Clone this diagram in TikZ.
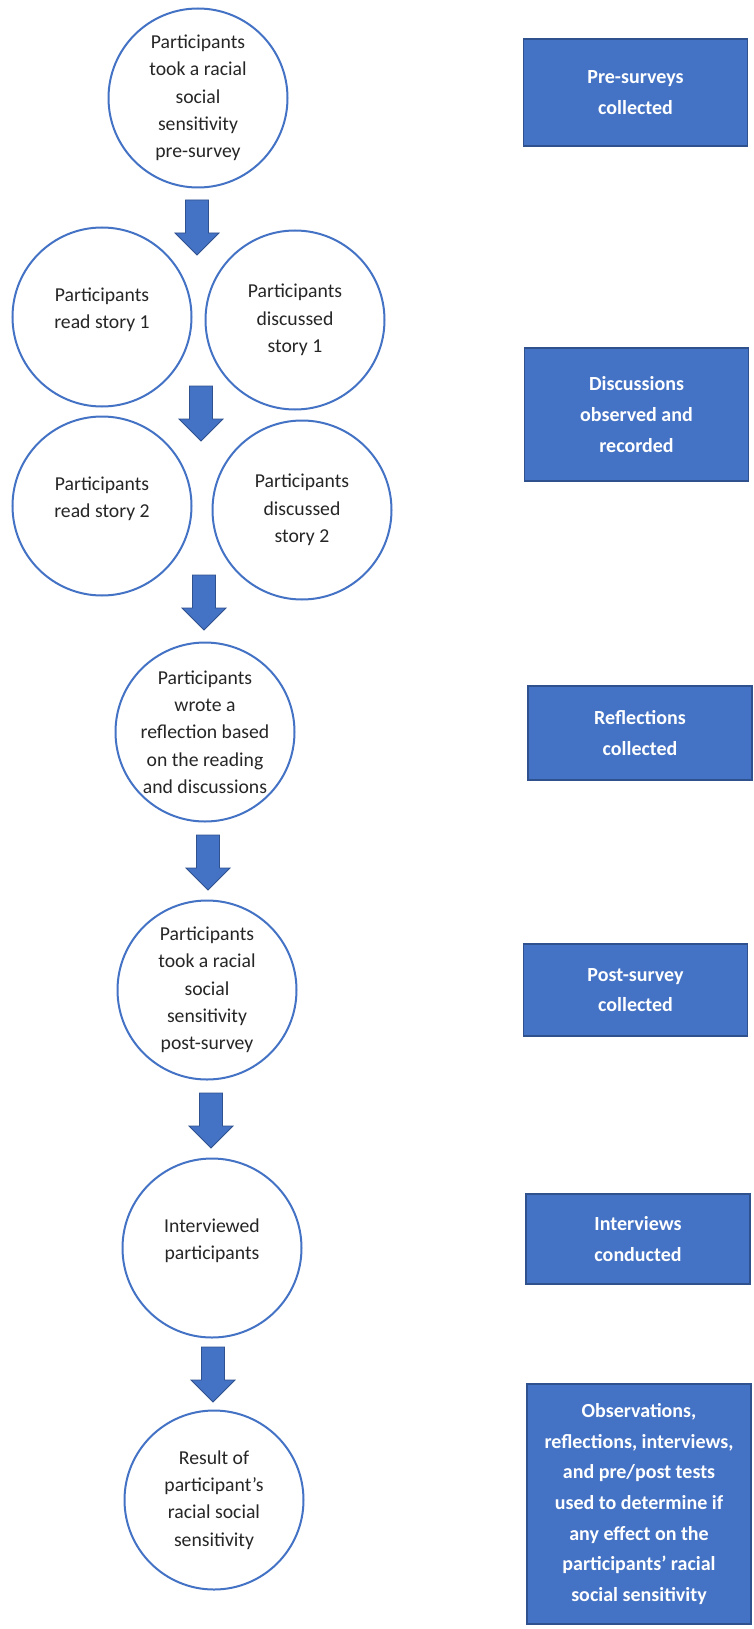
\documentclass[tikz,border=0pt]{standalone}
\usepackage{fontspec}
\setmainfont{Carlito}

\definecolor{officeblue}{HTML}{4472C4}
\definecolor{edgeblue}{HTML}{2F528F}

\tikzset{
  stepcircle/.style={circle, draw=officeblue, line width=2pt, minimum size=179pt,
    inner sep=-22pt, align=center, text=black!85,
    font=\fontsize{19.7pt}{27.3pt}\selectfont},
  databox/.style={rectangle, draw=edgeblue, fill=officeblue, line width=1.2pt,
    minimum width=224pt, inner sep=0pt, align=center, text=white,
    font=\fontsize{20pt}{30.7pt}\selectfont\bfseries},
  blockarrow/.style={fill=officeblue, draw=edgeblue, line width=0.8pt}
}

\begin{document}
\begin{tikzpicture}[x=1pt, y=-1pt]

      \useasboundingbox (0,0) rectangle (753,1629);
      \fill[white] (0,0) rectangle (753,1629);

      % Circles (left column)
      \node[stepcircle] (pre) at (198,98) {Participants\\took a racial\\social\\sensitivity\\pre-survey};

      \node[stepcircle] (readA) at (102,317) {Participants\\read story 1\\[-10pt]\mbox{}};
      \node[stepcircle] (discA) at (295,320) {Participants\\discussed\\story 1};

      \node[stepcircle] (readB) at (102,506) {Participants\\read story 2\\[-10pt]\mbox{}};
      \node[stepcircle] (discB) at (302,510) {Participants\\discussed\\story 2};

      \node[stepcircle] (reflect) at (205,732) {Participants\\wrote a\\reflection based\\on the reading\\and discussions};
      \node[stepcircle] (post) at (207,990) {Participants\\took a racial\\social\\sensitivity\\post-survey};
      \node[stepcircle] (interview) at (212,1248) {Interviewed\\participants\\[-10pt]\mbox{}};
      \node[stepcircle] (result) at (214,1500) {Result of\\participant’s\\racial social\\sensitivity};

      % Block arrows (x of shaft centre / top of shaft)
      \foreach \x/\y in {197/200, 201/386, 204/575, 208/835, 211/1093, 213/1347}
          \filldraw[blockarrow] (\x-11.5,\y) -- (\x+11.5,\y) -- (\x+11.5,\y+33)
              -- (\x+22,\y+33) -- (\x,\y+55) -- (\x-22,\y+33) -- (\x-11.5,\y+33) -- cycle;

      % Boxes (right column)
      \node[databox, minimum height=107pt] (preBox) at (635.5,92.5) {Pre-surveys\\collected};
      \node[databox, minimum height=133pt] (discBox) at (636.5,414.5) {Discussions\\observed and\\recorded};
      \node[databox, minimum height=94pt] (reflBox) at (640,733) {Reflections\\collected};
      \node[databox, minimum height=92pt] (postBox) at (635.5,990) {Post-survey\\collected};
      \node[databox, minimum height=90pt] (intBox) at (638,1239) {Interviews\\conducted};
      \node[databox, minimum height=240pt] (resBox) at (639,1504) {Observations,\\reflections, interviews,\\and pre/post tests\\used to determine if\\any effect on the\\participants’ racial\\social sensitivity};

\end{tikzpicture}
\end{document}
